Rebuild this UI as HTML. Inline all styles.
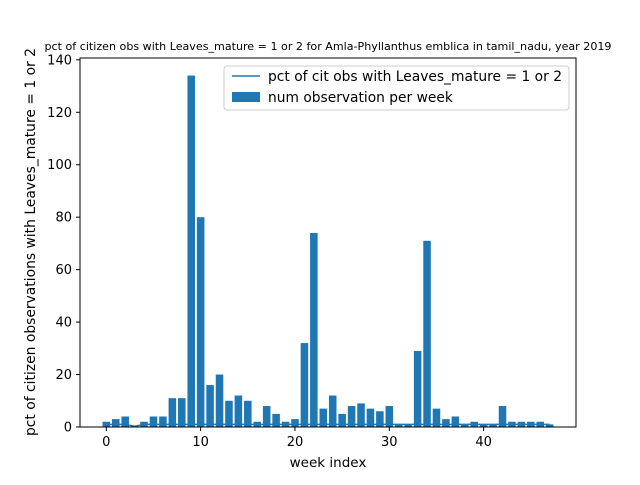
<!DOCTYPE html>
<html><head><meta charset="utf-8"><style>
body{margin:0;background:#fff;font-family:"Liberation Sans","DejaVu Sans",sans-serif}
</style></head><body>
<svg id="c" width="640" height="480" xmlns="http://www.w3.org/2000/svg" style="font-family:'DejaVu Sans','Liberation Sans',sans-serif">
<rect width="640" height="480" fill="#fff"/>
<text x="328" y="50" font-size="11" textLength="567" lengthAdjust="spacingAndGlyphs" text-anchor="middle">pct of citizen obs with Leaves_mature = 1 or 2 for Amla-Phyllanthus emblica in tamil_nadu, year 2019</text>
<g id="bars"></g><g id="line"></g><g id="ticks"></g>
<rect x="80" y="58" width="496" height="369" fill="none" stroke="#000" stroke-width="1"/>
<text x="328" y="467" font-size="13.5" text-anchor="middle">week index</text>
<text transform="translate(35,242) rotate(-90)" font-size="13.8" textLength="388" lengthAdjust="spacingAndGlyphs" text-anchor="middle">pct of citizen observations with Leaves_mature = 1 or 2</text>
<g>
<rect x="224" y="66" width="345" height="44" rx="3" fill="#fff" fill-opacity="0.8" stroke="#ccc"/>
<line x1="232" y1="76" x2="260" y2="76" stroke="#1f77b4" stroke-width="1.5"/>
<text x="268" y="81" font-size="13.8" textLength="294" lengthAdjust="spacingAndGlyphs">pct of cit obs with Leaves_mature = 1 or 2</text>
<rect x="232" y="92" width="28" height="10" fill="#1f77b4"/>
<text x="268" y="102" font-size="13.8">num observation per week</text>
</g>
</svg>
<script>
const weeks=[];for(let i=0;i<48;i++)weeks.push(i);
const counts=[2,3,4,0.5,2,4,4,11,11,134,80,16,20,10,12,10,2,8,5,2,3,32,74,7,12,5,8,9,7,6,8,1,1,29,71,7,3,4,1,2,1,1,8,2,2,2,2,1];
const pct=[1,1,1,0.3,1,1,1,1,1,1,1,1,1,1,1,1,1,1,1,1,1,1,1,1,1,1,1,1,1,1,1,1,1,1,1,1,1,1,1,1,1,1,1,1,1,1,1,1];
const xTicks=[0,10,20,30,40];
const yTicks=[0,20,40,60,80,100,120,140];
const NS="http://www.w3.org/2000/svg";
const X0=80,X1=576,Y0=427,Y1=58,xmin=-2.79,xmax=49.79,ymin=0,ymax=140.7;
const xs=v=>X0+(v-xmin)/(xmax-xmin)*(X1-X0);
const ys=v=>Y0-(v-ymin)/(ymax-ymin)*(Y0-Y1);
const bg=document.getElementById('bars');
weeks.forEach((w,i)=>{const r=document.createElementNS(NS,'rect');
r.setAttribute('x',xs(w-0.4));r.setAttribute('width',xs(w+0.4)-xs(w-0.4));
r.setAttribute('y',ys(counts[i]));r.setAttribute('height',ys(0)-ys(counts[i]));r.setAttribute('fill','#1f77b4');


bg.appendChild(r);});
const p=document.createElementNS(NS,'polyline');
p.setAttribute('points',weeks.map((w,i)=>xs(w)+','+ys(pct[i])).join(' '));
p.setAttribute('fill','none');p.setAttribute('stroke','#1f77b4');p.setAttribute('stroke-width','1.5');


document.getElementById('line').appendChild(p);
const tg=document.getElementById('ticks');
xTicks.forEach(t=>{const x=xs(t);
const l=document.createElementNS(NS,'line');l.setAttribute('x1',x);l.setAttribute('x2',x);l.setAttribute('y1',427);l.setAttribute('y2',431);l.setAttribute('stroke','#000');


tg.appendChild(l);
const tx=document.createElementNS(NS,'text');tx.setAttribute('x',x);tx.setAttribute('y',446);tx.setAttribute('font-size','13');tx.setAttribute('text-anchor','middle');tx.textContent=t;


tg.appendChild(tx);});
yTicks.forEach(t=>{const y=ys(t);
const l=document.createElementNS(NS,'line');l.setAttribute('x1',76);l.setAttribute('x2',80);l.setAttribute('y1',y);l.setAttribute('y2',y);l.setAttribute('stroke','#000');


tg.appendChild(l);
const tx=document.createElementNS(NS,'text');tx.setAttribute('x',72);tx.setAttribute('y',y+4.5);tx.setAttribute('font-size','13');tx.setAttribute('text-anchor','end');tx.textContent=t;


tg.appendChild(tx);});
</script>
</body></html>
